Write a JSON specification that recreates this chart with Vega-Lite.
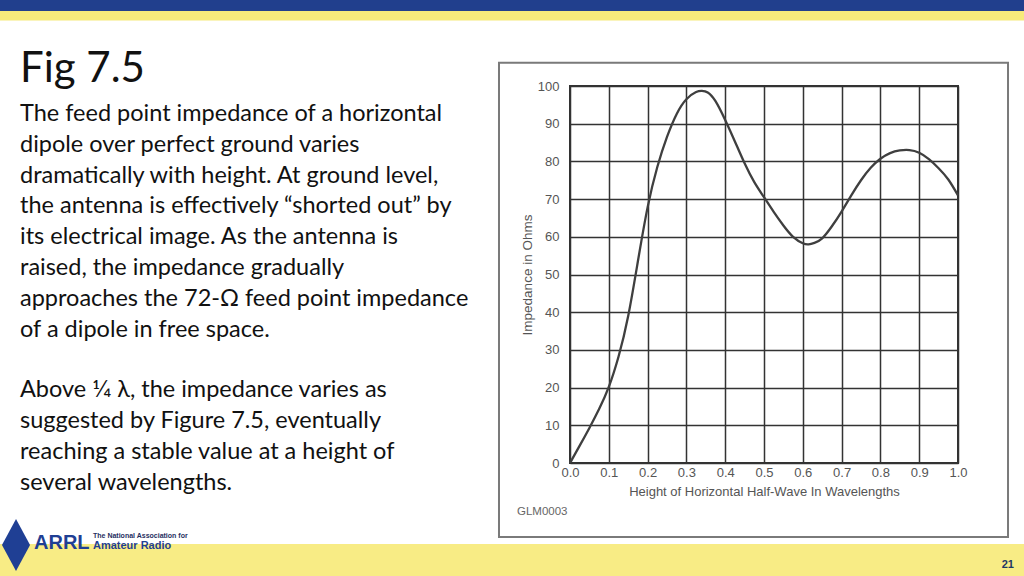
{
  "$schema": "https://vega.github.io/schema/vega-lite/v6.json",
  "autosize": {"type": "none"},
  "width": 388,
  "height": 377,
  "padding": {"left": 570, "top": 86, "right": 66, "bottom": 113},
  "background": "white",
  "config": {
    "view": {"stroke": "#333333", "strokeWidth": 2},
    "font": "Liberation Sans",
    "axis": {
      "grid": true,
      "gridColor": "#333333",
      "gridWidth": 1.5,
      "gridOpacity": 1,
      "ticks": false,
      "domain": false,
      "labelFont": "Liberation Sans",
      "labelFontSize": 13,
      "labelColor": "#555555",
      "labelOverlap": false,
      "labelFlush": false,
      "titleFont": "Liberation Sans",
      "titleFontWeight": "normal",
      "titleColor": "#555555"
    },
    "axisX": {"labelPadding": 3, "titlePadding": 6, "titleFontSize": 13},
    "axisY": {"labelPadding": 11, "titlePadding": 3, "titleFontSize": 13.5}
  },
  "layer": [
    {
      "data": {
        "values": [
          {"h": 0.0, "z": 0},
          {"h": 0.025, "z": 4.6},
          {"h": 0.05, "z": 9.3},
          {"h": 0.075, "z": 14.3},
          {"h": 0.1, "z": 20.2},
          {"h": 0.125, "z": 28.2},
          {"h": 0.15, "z": 39},
          {"h": 0.175, "z": 53.5},
          {"h": 0.2, "z": 67.8},
          {"h": 0.225, "z": 78.5},
          {"h": 0.25, "z": 86.5},
          {"h": 0.275, "z": 92.6},
          {"h": 0.3, "z": 96.5},
          {"h": 0.325, "z": 98.4},
          {"h": 0.34, "z": 98.7},
          {"h": 0.355, "z": 98.3},
          {"h": 0.375, "z": 96},
          {"h": 0.4, "z": 91},
          {"h": 0.425, "z": 85.3},
          {"h": 0.45, "z": 79.5},
          {"h": 0.475, "z": 74.5},
          {"h": 0.5, "z": 70.5},
          {"h": 0.525, "z": 66.6},
          {"h": 0.55, "z": 63},
          {"h": 0.575, "z": 60},
          {"h": 0.6, "z": 58.3},
          {"h": 0.615, "z": 58},
          {"h": 0.63, "z": 58.4},
          {"h": 0.65, "z": 59.6},
          {"h": 0.675, "z": 62.8},
          {"h": 0.7, "z": 66.7},
          {"h": 0.725, "z": 71},
          {"h": 0.75, "z": 75},
          {"h": 0.775, "z": 78.3},
          {"h": 0.8, "z": 80.7},
          {"h": 0.825, "z": 82.2},
          {"h": 0.85, "z": 82.9},
          {"h": 0.875, "z": 83},
          {"h": 0.9, "z": 82.3},
          {"h": 0.925, "z": 80.6},
          {"h": 0.95, "z": 78.2},
          {"h": 0.975, "z": 75.2},
          {"h": 1.0, "z": 71}
        ]
      },
      "mark": {"type": "line", "color": "#3f3f3f", "strokeWidth": 2.3, "interpolate": "natural"},
      "encoding": {
        "x": {
          "field": "h",
          "type": "quantitative",
          "scale": {"domain": [0, 1], "nice": false, "zero": false},
          "axis": {"values": [0, 0.1, 0.2, 0.3, 0.4, 0.5, 0.6, 0.7, 0.8, 0.9, 1.0], "format": ".1f", "title": "Height of Horizontal Half-Wave In Wavelengths"}
        },
        "y": {
          "field": "z",
          "type": "quantitative",
          "scale": {"domain": [0, 100], "nice": false},
          "axis": {"values": [0, 10, 20, 30, 40, 50, 60, 70, 80, 90, 100], "title": "Impedance in Ohms"}
        }
      }
    },
    {
      "data": {"values": [{}]},
      "mark": {"type": "rect", "fill": "#213F8D"},
      "encoding": {
        "x": {"datum": -1.4691, "type": "quantitative", "axis": {"values": [0, 0.1, 0.2, 0.3, 0.4, 0.5, 0.6, 0.7, 0.8, 0.9, 1.0], "format": ".1f", "title": "Height of Horizontal Half-Wave In Wavelengths"}},
        "x2": {"datum": 1.1701},
        "y": {"datum": 122.81, "type": "quantitative", "axis": {"values": [0, 10, 20, 30, 40, 50, 60, 70, 80, 90, 100], "title": "Impedance in Ohms"}},
        "y2": {"datum": 119.89}
      }
    },
    {
      "data": {"values": [{}]},
      "mark": {"type": "rect", "fill": "#F6EA7B"},
      "encoding": {
        "x": {"datum": -1.4691, "type": "quantitative", "axis": {"values": [0, 0.1, 0.2, 0.3, 0.4, 0.5, 0.6, 0.7, 0.8, 0.9, 1.0], "format": ".1f", "title": "Height of Horizontal Half-Wave In Wavelengths"}},
        "x2": {"datum": 1.1701},
        "y": {"datum": 119.89, "type": "quantitative", "axis": {"values": [0, 10, 20, 30, 40, 50, 60, 70, 80, 90, 100], "title": "Impedance in Ohms"}},
        "y2": {"datum": 117.37}
      }
    },
    {
      "data": {"values": [{}]},
      "mark": {"type": "rect", "fill": "#F8EC85"},
      "encoding": {
        "x": {"datum": -1.4691, "type": "quantitative", "axis": {"values": [0, 0.1, 0.2, 0.3, 0.4, 0.5, 0.6, 0.7, 0.8, 0.9, 1.0], "format": ".1f", "title": "Height of Horizontal Half-Wave In Wavelengths"}},
        "x2": {"datum": 1.1701},
        "y": {"datum": -21.49, "type": "quantitative", "axis": {"values": [0, 10, 20, 30, 40, 50, 60, 70, 80, 90, 100], "title": "Impedance in Ohms"}},
        "y2": {"datum": -29.97}
      }
    },
    {
      "data": {"values": [{}]},
      "mark": {"type": "rect", "fillOpacity": 0, "stroke": "#7a7a7a", "strokeWidth": 2},
      "encoding": {
        "x": {"datum": -0.183, "type": "quantitative", "axis": {"values": [0, 0.1, 0.2, 0.3, 0.4, 0.5, 0.6, 0.7, 0.8, 0.9, 1.0], "format": ".1f", "title": "Height of Horizontal Half-Wave In Wavelengths"}},
        "x2": {"datum": 1.1289},
        "y": {"datum": 106.18, "type": "quantitative", "axis": {"values": [0, 10, 20, 30, 40, 50, 60, 70, 80, 90, 100], "title": "Impedance in Ohms"}},
        "y2": {"datum": -19.63}
      }
    },
    {
      "data": {"values": [{}]},
      "mark": {"type": "text", "text": "Fig 7.5", "font": "Lato", "fontSize": 42, "color": "#111111", "align": "left", "baseline": "alphabetic"},
      "encoding": {
        "x": {"datum": -1.4175, "type": "quantitative", "axis": {"values": [0, 0.1, 0.2, 0.3, 0.4, 0.5, 0.6, 0.7, 0.8, 0.9, 1.0], "format": ".1f", "title": "Height of Horizontal Half-Wave In Wavelengths"}},
        "y": {"datum": 101.06, "type": "quantitative", "axis": {"values": [0, 10, 20, 30, 40, 50, 60, 70, 80, 90, 100], "title": "Impedance in Ohms"}}
      }
    },
    {
      "data": {"values": [{}]},
      "mark": {
        "type": "text",
        "text": [
          "The feed point impedance of a horizontal",
          "dipole over perfect ground varies",
          "dramatically with height. At ground level,",
          "the antenna is effectively “shorted out” by",
          "its electrical image. As the antenna is",
          "raised, the impedance gradually",
          "approaches the 72-Ω feed point impedance",
          "of a dipole in free space."
        ],
        "font": "Lato",
        "fontSize": 23.5,
        "lineHeight": 30.8,
        "color": "#111111",
        "align": "left",
        "baseline": "alphabetic"
      },
      "encoding": {
        "x": {"datum": -1.4175, "type": "quantitative", "axis": {"values": [0, 0.1, 0.2, 0.3, 0.4, 0.5, 0.6, 0.7, 0.8, 0.9, 1.0], "format": ".1f", "title": "Height of Horizontal Half-Wave In Wavelengths"}},
        "y": {"datum": 90.72, "type": "quantitative", "axis": {"values": [0, 10, 20, 30, 40, 50, 60, 70, 80, 90, 100], "title": "Impedance in Ohms"}}
      }
    },
    {
      "data": {"values": [{}]},
      "mark": {
        "type": "text",
        "text": [
          "Above 1⁄4 λ, the impedance varies as",
          "suggested by Figure 7.5, eventually",
          "reaching a stable value at a height of",
          "several wavelengths."
        ],
        "font": "Lato",
        "fontSize": 23.5,
        "lineHeight": 30.8,
        "color": "#111111",
        "align": "left",
        "baseline": "alphabetic"
      },
      "encoding": {
        "x": {"datum": -1.4175, "type": "quantitative", "axis": {"values": [0, 0.1, 0.2, 0.3, 0.4, 0.5, 0.6, 0.7, 0.8, 0.9, 1.0], "format": ".1f", "title": "Height of Horizontal Half-Wave In Wavelengths"}},
        "y": {"datum": 17.43, "type": "quantitative", "axis": {"values": [0, 10, 20, 30, 40, 50, 60, 70, 80, 90, 100], "title": "Impedance in Ohms"}}
      }
    },
    {
      "data": {"values": [{}]},
      "mark": {"type": "text", "text": "GLM0003", "fontSize": 11.5, "color": "#666666", "align": "left", "baseline": "alphabetic"},
      "encoding": {
        "x": {"datum": -0.1366, "type": "quantitative", "axis": {"values": [0, 0.1, 0.2, 0.3, 0.4, 0.5, 0.6, 0.7, 0.8, 0.9, 1.0], "format": ".1f", "title": "Height of Horizontal Half-Wave In Wavelengths"}},
        "y": {"datum": -13.79, "type": "quantitative", "axis": {"values": [0, 10, 20, 30, 40, 50, 60, 70, 80, 90, 100], "title": "Impedance in Ohms"}}
      }
    },
    {
      "data": {"values": [{}]},
      "mark": {"type": "point", "shape": "M0,-1L0.54,0L0,1L-0.54,0Z", "filled": true, "fill": "#1F3F94", "opacity": 1, "size": 2704},
      "encoding": {
        "x": {"datum": -1.4278, "type": "quantitative", "axis": {"values": [0, 0.1, 0.2, 0.3, 0.4, 0.5, 0.6, 0.7, 0.8, 0.9, 1.0], "format": ".1f", "title": "Height of Horizontal Half-Wave In Wavelengths"}},
        "y": {"datum": -21.75, "type": "quantitative", "axis": {"values": [0, 10, 20, 30, 40, 50, 60, 70, 80, 90, 100], "title": "Impedance in Ohms"}}
      }
    },
    {
      "data": {"values": [{}]},
      "mark": {"type": "text", "text": "ARRL", "fontSize": 20, "fontWeight": "bold", "color": "#1F3F94", "align": "left", "baseline": "alphabetic"},
      "encoding": {
        "x": {"datum": -1.3814, "type": "quantitative", "axis": {"values": [0, 0.1, 0.2, 0.3, 0.4, 0.5, 0.6, 0.7, 0.8, 0.9, 1.0], "format": ".1f", "title": "Height of Horizontal Half-Wave In Wavelengths"}},
        "y": {"datum": -22.94, "type": "quantitative", "axis": {"values": [0, 10, 20, 30, 40, 50, 60, 70, 80, 90, 100], "title": "Impedance in Ohms"}}
      }
    },
    {
      "data": {"values": [{}]},
      "mark": {"type": "text", "text": "The National Association for", "fontSize": 7, "fontWeight": "bold", "color": "#1F2F5F", "align": "left", "baseline": "alphabetic"},
      "encoding": {
        "x": {"datum": -1.2294, "type": "quantitative", "axis": {"values": [0, 0.1, 0.2, 0.3, 0.4, 0.5, 0.6, 0.7, 0.8, 0.9, 1.0], "format": ".1f", "title": "Height of Horizontal Half-Wave In Wavelengths"}},
        "y": {"datum": -19.89, "type": "quantitative", "axis": {"values": [0, 10, 20, 30, 40, 50, 60, 70, 80, 90, 100], "title": "Impedance in Ohms"}}
      }
    },
    {
      "data": {"values": [{}]},
      "mark": {"type": "text", "text": "Amateur Radio", "fontSize": 11, "fontWeight": "bold", "color": "#1F3F94", "align": "left", "baseline": "alphabetic"},
      "encoding": {
        "x": {"datum": -1.2294, "type": "quantitative", "axis": {"values": [0, 0.1, 0.2, 0.3, 0.4, 0.5, 0.6, 0.7, 0.8, 0.9, 1.0], "format": ".1f", "title": "Height of Horizontal Half-Wave In Wavelengths"}},
        "y": {"datum": -22.73, "type": "quantitative", "axis": {"values": [0, 10, 20, 30, 40, 50, 60, 70, 80, 90, 100], "title": "Impedance in Ohms"}}
      }
    },
    {
      "data": {"values": [{}]},
      "mark": {"type": "text", "text": "21", "fontSize": 11, "fontWeight": "bold", "color": "#1F3864", "align": "right", "baseline": "alphabetic"},
      "encoding": {
        "x": {"datum": 1.1443, "type": "quantitative", "axis": {"values": [0, 0.1, 0.2, 0.3, 0.4, 0.5, 0.6, 0.7, 0.8, 0.9, 1.0], "format": ".1f", "title": "Height of Horizontal Half-Wave In Wavelengths"}},
        "y": {"datum": -27.77, "type": "quantitative", "axis": {"values": [0, 10, 20, 30, 40, 50, 60, 70, 80, 90, 100], "title": "Impedance in Ohms"}}
      }
    }
  ]
}
